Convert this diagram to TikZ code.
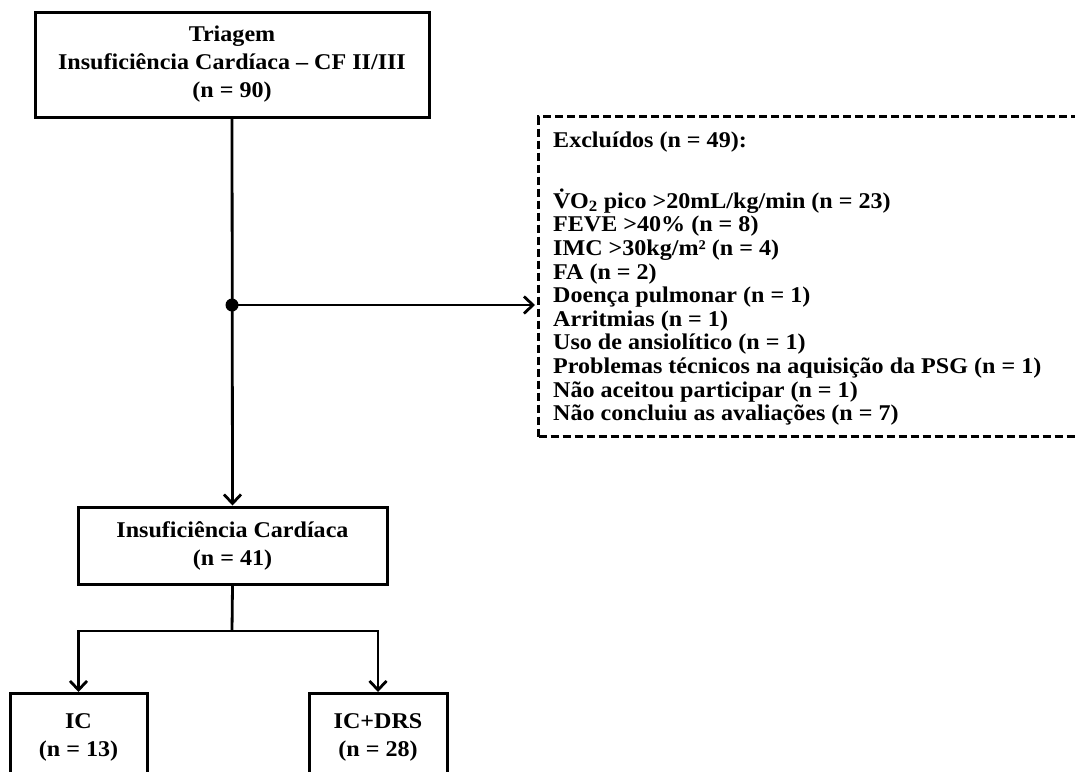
\documentclass[tikz,border=0pt]{standalone}
\usepackage{fontspec}
\setmainfont{Liberation Serif}[FakeStretch=1.07]
\usetikzlibrary{arrows.meta}
\newcommand\Vdotted{V^^^^0307}
\begin{document}
\begin{tikzpicture}[x=1pt,y=-1pt,
  box/.style={draw, line width=3pt, inner sep=0pt, align=center, font=\bfseries\fontsize{22.5}{28}\selectfont},
  conn/.style={line width=2.8pt},
  arr/.style={conn, -{Straight Barb[length=9pt,width=17pt]}},
  dashbox/.style={draw, line width=3pt, dash pattern=on 8pt off 4pt},
  listtext/.style={font=\bfseries\fontsize{22.5}{23.6}\selectfont, align=left, inner sep=0pt, anchor=north west}]
\useasboundingbox (0,0) rectangle (1075,771);
\fill[white] (0,0) rectangle (1075,771);
\clip (0,0) rectangle (1075,771);
\node[box, minimum width=394pt, minimum height=105pt] (top) at (232,64.5)
  {Triagem\\Insuficiência Cardíaca – CF II/III\\(n = 90)};
\node[box, minimum width=309pt, minimum height=77pt] (mid) at (232.5,545.5)
  {Insuficiência Cardíaca\\(n = 41)};
\node[box, minimum width=137pt, minimum height=88pt, anchor=north] (ic) at (78.5,692)
  {IC\\(n = 13)};
\node[box, minimum width=138pt, minimum height=88pt, anchor=north] (icdrs) at (378,692)
  {IC+DRS\\(n = 28)};
\node[dashbox, anchor=north west, minimum width=560pt, minimum height=320pt] (excl) at (537,115) {};
\node[listtext] (excltext) at (553,132) {Excluídos (n = 49):\\[35.4pt]
\Vdotted O\textsubscript{2} pico >20mL/kg/min (n = 23)\\
FEVE >40\% (n = 8)\\
IMC >30kg/m² (n = 4)\\
FA (n = 2)\\
Doença pulmonar (n = 1)\\
Arritmias (n = 1)\\
Uso de ansiolítico (n = 1)\\
Problemas técnicos na aquisição da PSG (n = 1)\\
Não aceitou participar (n = 1)\\
Não concluiu as avaliações (n = 7)};
\coordinate (j) at (232,305);
\coordinate (split) at (232,631);
\draw[arr] (top.south) -- (mid.north);
\fill (j) circle (6.5pt);
\draw[arr, shorten >=2pt] (j) -- (j -| excl.west);
\draw[conn] (mid.south) -- (split);
\draw[arr] (split) -| (ic.north);
\draw[arr] (split) -| (icdrs.north);
\end{tikzpicture}
\end{document}
